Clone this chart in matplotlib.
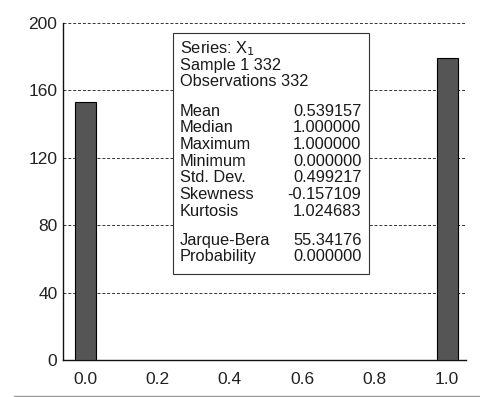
import matplotlib
matplotlib.use("Agg")
import matplotlib.pyplot as plt
from matplotlib.patches import Rectangle

plt.rcParams['font.family'] = ['Liberation Sans', 'DejaVu Sans']

# Histogram of a binary series
bin_centers = [0.0, 1.0]
counts = [153, 179]
y_ticks = [0, 40, 80, 120, 160, 200]
x_ticks = [0.0, 0.2, 0.4, 0.6, 0.8, 1.0]

header_lines = ["Series: X$_1$", "Sample 1 332", "Observations 332"]
stat_names = ["Mean", "Median", "Maximum", "Minimum", "Std. Dev.", "Skewness", "Kurtosis"]
stat_values = ["0.539157", "1.000000", "1.000000", "0.000000", "0.499217", "-0.157109", "1.024683"]
test_names = ["Jarque-Bera", "Probability"]
test_values = ["55.34176", "0.000000"]

W, H = 480, 397
fig = plt.figure(figsize=(W / 100, H / 100), dpi=100)
ax = fig.add_axes([63 / W, 1 - 360 / H, (466 - 63) / W, (360 - 23) / H])

ax.bar(bin_centers, counts, width=0.058, color='#555555', edgecolor='black',
       linewidth=0.8, zorder=3)

ax.set_xlim(-0.061, 1.052)
ax.set_ylim(0, 200)
ax.set_yticks(y_ticks)
ax.set_xticks(x_ticks)
ax.set_xticklabels([f"{v:.1f}" for v in x_ticks])
ax.tick_params(length=0, labelsize=12.5, colors='#222222')
ax.tick_params(axis='x', pad=9)
ax.tick_params(axis='y', pad=4)
for yv in y_ticks[1:]:
    ax.axhline(yv, color='#333333', linestyle=(0, (3, 2)), linewidth=0.7, zorder=1)
ax.spines['top'].set_visible(False)
ax.spines['right'].set_visible(False)
for s in ('left', 'bottom'):
    ax.spines[s].set_linewidth(1.0)
    ax.spines[s].set_color('#111111')

# Statistics box
bx0, by0, bx1, by1 = 173, 33, 369, 274
fig.add_artist(Rectangle((bx0 / W, 1 - by1 / H), (bx1 - bx0) / W, (by1 - by0) / H,
                         transform=fig.transFigure, facecolor='white',
                         edgecolor='#333333', linewidth=0.8, zorder=5))

fs = 11.8
lx, rx = 179.5 / W, 361.5 / W
step = 16.7
txt = dict(fontsize=fs, va='center', zorder=6, color='#1a1a1a')
y = 48.5
for line in header_lines:
    fig.text(lx, 1 - y / H, line, ha='left', **txt)
    y += step
y = 111
for n, v in zip(stat_names, stat_values):
    fig.text(lx, 1 - y / H, n, ha='left', **txt)
    fig.text(rx, 1 - y / H, v, ha='right', **txt)
    y += step
y = 240
for n, v in zip(test_names, test_values):
    fig.text(lx, 1 - y / H, n, ha='left', **txt)
    fig.text(rx, 1 - y / H, v, ha='right', **txt)
    y += step

# Separator rule under the chart
fig.add_artist(plt.Line2D([14 / W, 1], [1 - 396 / H, 1 - 396 / H], transform=fig.transFigure,
                          color='#999999', linewidth=1.0))

fig.savefig("out.png", dpi=100)
